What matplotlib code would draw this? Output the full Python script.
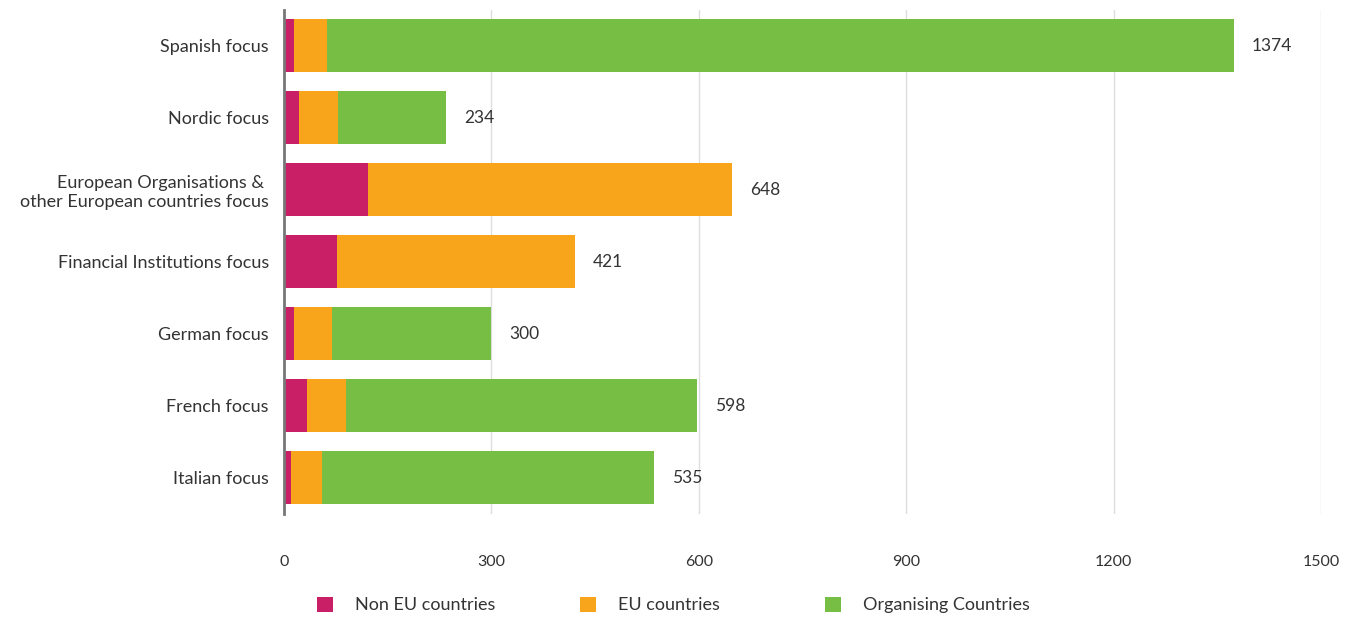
import matplotlib
matplotlib.use("Agg")
import matplotlib.pyplot as plt
import numpy as np

plt.rcParams["font.family"] = ["Lato", "DejaVu Sans"]

CATEGORIES = [
    "Spanish focus",
    "Nordic focus",
    "European Organisations & \nother European countries focus",
    "Financial Institutions focus",
    "German focus",
    "French focus",
    "Italian focus",
]
NON_EU = [15, 22, 121, 77, 15, 33, 10]
EU = [47, 56, 527, 344, 54, 57, 45]
ORGANISING = [1312, 156, 0, 0, 231, 508, 480]
TOTALS = [1374, 234, 648, 421, 300, 598, 535]
XTICKS = [0, 300, 600, 900, 1200, 1500]

COLORS = {"Non EU countries": "#c91f66", "EU countries": "#f8a51c",
          "Organising Countries": "#76bf44"}
TEXT = "#333333"

fig = plt.figure(figsize=(13.5, 6.18), dpi=100)
ax = fig.add_axes([0.2104, 0.169, 0.7681, 0.8156])

y = np.arange(len(CATEGORIES))
h = 0.74
left = np.zeros(len(CATEGORIES))
for name, vals in [("Non EU countries", NON_EU), ("EU countries", EU),
                   ("Organising Countries", ORGANISING)]:
    ax.barh(y, vals, left=left, height=h, color=COLORS[name], label=name, zorder=3)
    left = left + np.array(vals)

for yi, tot in zip(y, TOTALS):
    ax.annotate(str(tot), xy=(tot, yi), xytext=(18, 0), textcoords="offset pixels",
                va="center", ha="left", fontsize=12.5, color=TEXT)

ax.set_ylim(len(CATEGORIES) - 0.5, -0.5)
ax.set_xlim(0, 1500)
ax.set_yticks(y)
ax.set_yticklabels(CATEGORIES, fontsize=13, color=TEXT)
ax.set_xticks(XTICKS)
ax.set_xticklabels([str(t) for t in XTICKS], fontsize=11.5, color=TEXT)
ax.tick_params(axis="y", length=0, pad=11)
ax.tick_params(axis="x", length=0, pad=30)
ax.grid(True, axis="x", color="#dddddd", linewidth=1, zorder=0)
for s in ["top", "right", "bottom"]:
    ax.spines[s].set_visible(False)
ax.spines["left"].set_color("#777777")
ax.spines["left"].set_linewidth(2)
ax.spines["left"].set_zorder(4)

# legend entries sit in fixed-width slots, so place each one on its own
handles, labels = ax.get_legend_handles_labels()
for hd, lb, x0 in zip(handles, labels, [0.2348, 0.4296, 0.6111]):
    fig.legend([hd], [lb], loc="center left", bbox_to_anchor=(x0, 0.021),
               frameon=False, fontsize=13, handlelength=0.9, handleheight=0.9,
               handletextpad=1.2, borderpad=0, borderaxespad=0, labelcolor=TEXT)

fig.savefig("out.png", dpi=100)
